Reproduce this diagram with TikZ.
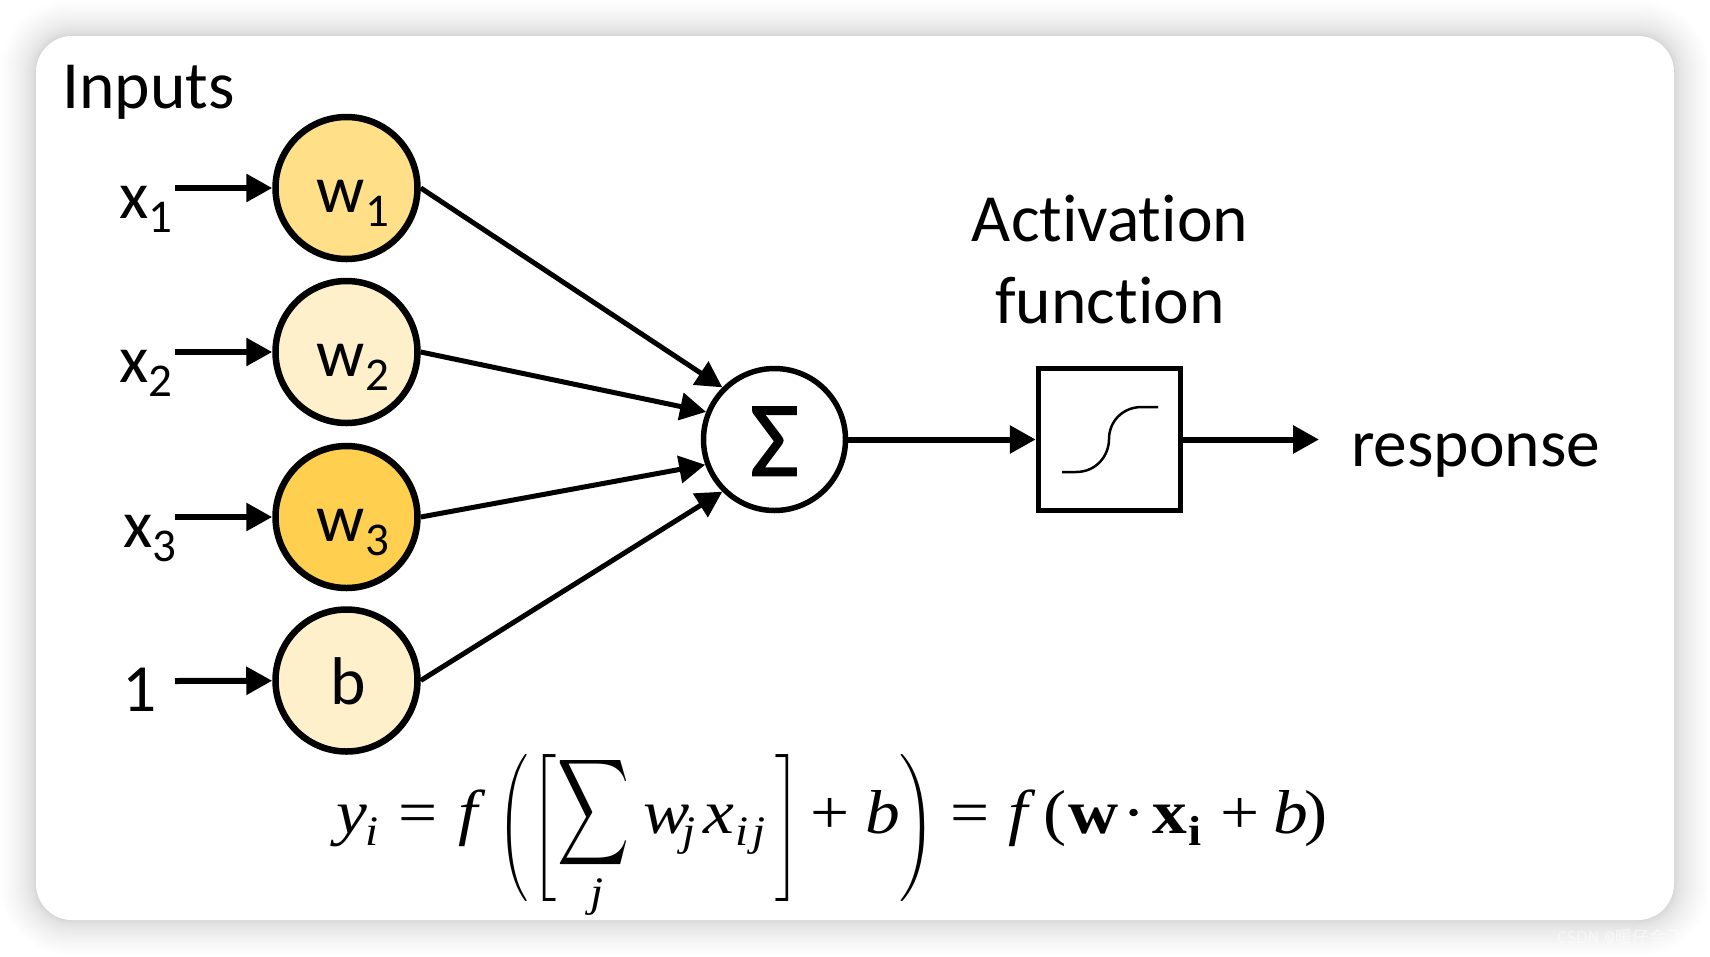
\documentclass[tikz,border=0pt]{standalone}
\usepackage{graphicx}
\usepackage{amsmath}
\usepackage{fontspec}
\setmainfont[Ligatures=NoCommon]{Carlito}
\newfontfamily\cjk{Noto Sans CJK SC}
\newfontfamily\fm[FakeStretch=1.12]{Liberation Serif}
\newfontfamily\sigmafont[FakeBold=1.5]{Carlito}
\usetikzlibrary{arrows.meta}
\newcommand{\bigfont}{\fontsize{67.5}{74}\selectfont}
\newcommand{\subnum}[1]{\raisebox{-14pt}{\fontsize{47}{47}\selectfont #1}}
\newcommand{\inbase}[2]{\hspace*{#1}\raisebox{-24pt}[0pt][0pt]{#2}}
% formula helpers: absolute x on the picture, height above the baseline
\newsavebox{\glyphbox}
\newcommand{\tplace}[3]{\rlap{\hspace*{#1pt}\raisebox{#2pt}{#3}}}
\newcommand{\gplace}[5]{\sbox{\glyphbox}{\resizebox*{#3pt}{#4pt}{$\displaystyle #5$}}%
  \rlap{\hspace*{#1pt}\raisebox{\dimexpr#2pt+\dp\glyphbox}{\usebox{\glyphbox}}}}
\newcommand{\mi}[1]{{\fm\itshape\fontsize{62}{62}\selectfont #1}}
\newcommand{\mr}[1]{{\fm\fontsize{62}{62}\selectfont #1}}
\newcommand{\mb}[1]{{\fm\bfseries\fontsize{62}{62}\selectfont #1}}
\newcommand{\si}[1]{{\fm\itshape\fontsize{42}{42}\selectfont #1}}
\newcommand{\sbf}[1]{{\fm\bfseries\fontsize{42}{42}\selectfont #1}}
\definecolor{goldA}{HTML}{FFDF88}
\definecolor{goldB}{HTML}{FFF0CC}
\definecolor{goldC}{HTML}{FFCF50}
\tikzset{
  x=1pt,y=-1pt,
  neuron/.style={circle,draw=black,line width=6.5pt,minimum size=142pt,inner sep=0pt,font=\bigfont},
  sumnode/.style={circle,draw=black,line width=5.5pt,fill=white,minimum size=142pt,inner sep=0pt},
  actbox/.style={rectangle,draw=black,line width=5.5pt,fill=white,minimum size=142pt,inner sep=0pt},
  lab/.style={inner sep=0pt,anchor=base west,font=\bigfont},
  thick arrow/.style={line width=6pt,-{Triangle[length=26pt,width=27pt]}},
  diag arrow/.style={line width=5pt,-{Triangle[length=26pt,width=27pt]}},
}
\begin{document}
\begin{tikzpicture}
\useasboundingbox (0,0) rectangle (1710,956);
\fill[white] (0,0) rectangle (1710,956);
% soft shadow round the card: layers crowd towards the card edge
\foreach \k in {1,2,...,45}{
  \pgfmathsetmacro{\i}{36*(\k/45)*(\k/45)}
  \fill[black,opacity=0.0045,rounded corners={36pt+\i pt}] (36-\i,36-\i) rectangle (1674+\i,920+\i);
}
\fill[white,rounded corners=36pt] (36,36) rectangle (1674,920);
\node[text=white,opacity=.55,inner sep=0pt,anchor=base west,font=\fontsize{17}{17}\selectfont\sffamily] (mark) at (1557,943) {CSDN @{\cjk 暖仔会飞}};

\node[lab] (inputs) at (62,108) {Inputs};

\node[neuron,fill=goldA] (w1) at (346.5,188) {\inbase{13pt}{w\subnum{1}}};
\node[neuron,fill=goldB] (w2) at (346.5,352) {\inbase{13pt}{w\subnum{2}}};
\node[neuron,fill=goldC] (w3) at (346.5,517) {\inbase{13pt}{w\subnum{3}}};
\node[neuron,fill=goldB] (b)  at (346.5,680.5) {\raisebox{-24pt}[0pt][0pt]{\hspace*{3pt}b}};

\node[lab] (x1) at (119,218) {x\subnum{1}};
\node[lab] (x2) at (119,382) {x\subnum{2}};
\node[lab] (x3) at (123,547) {x\subnum{3}};
\node[lab] (one) at (122,711) {1};

\coordinate (s1) at (175,188);
\coordinate (s2) at (175,352);
\coordinate (s3) at (175,517);
\coordinate (s4) at (175,681);
\draw[thick arrow] (s1) -- (w1);
\draw[thick arrow] (s2) -- (w2);
\draw[thick arrow] (s3) -- (w3);
\draw[thick arrow] (s4) -- (b);

\node[sumnode] (sum) at (774.5,439.5) {\raisebox{-36pt}[0pt][0pt]{\fontsize{107}{107}\selectfont\sigmafont Σ}};

\draw[diag arrow] (w1.east) -- (sum.135);
\draw[diag arrow] (w2.east) -- (sum.158);
\draw[diag arrow] (w3.east) -- (sum.200);
\draw[diag arrow] (b.east) -- (sum.225);

\node[actbox] (act) at (1109.5,439.5) {};
\draw[line width=2.5pt] (1062,472) -- (1076,472) .. controls (1096,472) and (1109,456) .. (1109,439) .. controls (1109,422) and (1122,407) .. (1142,407) -- (1158,407);

\coordinate (out) at (1319,439.5);
\draw[thick arrow] (sum) -- (act);
\draw[thick arrow] (act) -- (out);

\node[inner sep=0pt,anchor=base,font=\bigfont] (actA) at (1110,241) {Activation};
\node[inner sep=0pt,anchor=base,font=\bigfont] (actB) at (1110,323) {function};
\node[lab] (resp) at (1351,466) {response};

\node[inner sep=0pt,anchor=base west] (formula) at (0,833) {%
 \tplace{336}{0}{\mi{y}}\tplace{365}{-12}{\si{i}}%
 \tplace{398}{0}{\mr{=}}\tplace{458}{0}{\mi{f}}%
 \gplace{498}{-69}{30}{147}{\Bigg(}%
 \gplace{531}{-69}{25}{147}{\Bigg[}%
 \gplace{557}{-39}{72}{119}{\sum}%
 \tplace{590}{-73}{\si{j}}%
 \tplace{643}{0}{\mi{w}}\tplace{682}{-12}{\si{j}}%
 \tplace{703}{0}{\mi{x}}\tplace{735}{-12}{\si{i}}\tplace{752}{-12}{\si{j}}%
 \gplace{775}{-69}{25}{147}{\Bigg]}%
 \tplace{810}{0}{\mr{+}}\tplace{865}{0}{\mi{b}}%
 \gplace{899}{-69}{36}{147}{\Bigg)}%
 \tplace{950}{0}{\mr{=}}\tplace{1008}{0}{\mi{f}}%
 \tplace{1043}{0}{\mr{(}}\tplace{1068}{0}{\mb{w}}\tplace{1122}{0}{\mr{·}}%
 \tplace{1152}{0}{\mb{x}}\tplace{1188}{-12}{\sbf{i}}%
 \tplace{1220}{0}{\mr{+}}\tplace{1273}{0}{\mi{b}}\tplace{1304}{0}{\mr{)}}%
};
\end{tikzpicture}
\end{document}
